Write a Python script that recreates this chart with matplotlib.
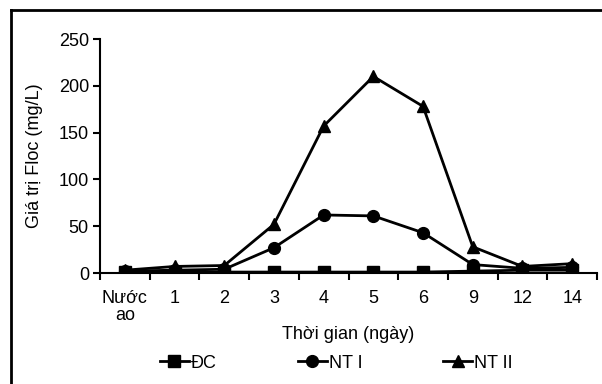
import matplotlib
matplotlib.use("Agg")
import matplotlib.pyplot as plt
from matplotlib.lines import Line2D

plt.rcParams['font.family'] = ['Liberation Sans', 'DejaVu Sans']

categories = ["Nước\nao", "1", "2", "3", "4", "5", "6", "9", "12", "14"]
dc = [1, 1, 1, 1, 1, 1, 1, 2, 3, 3]
nt1 = [2, 3, 4, 27, 62, 61, 43, 9, 5, 6]
nt2 = [3, 7, 8, 52, 157, 210, 178, 28, 7, 10]

fs = 13
fig = plt.figure(figsize=(6.02, 3.84), dpi=100)
ax = fig.add_axes([100/602, 111/384, 497/602, 234/384])

x = list(range(len(categories)))
ms = 8.5
ax.plot(x, dc, color='black', lw=2, marker='s', ms=ms, label='ĐC')
ax.plot(x, nt1, color='black', lw=2, marker='o', ms=ms, label='NT I')
ax.plot(x, nt2, color='black', lw=2, marker='^', ms=ms, label='NT II')

ax.set_xlim(-0.5, len(categories) - 0.5)
ax.set_ylim(0, 250)
ax.set_yticks([0, 50, 100, 150, 200, 250])
ax.set_xticks(x)
ax.set_xticklabels(categories, fontsize=fs, linespacing=1.0)
ax.set_xticks([i - 0.5 for i in range(len(categories) + 1)], minor=True)
ax.tick_params(axis='x', which='major', length=0, pad=12)
ax.tick_params(axis='x', which='minor', length=5, width=1.5, direction='out')
ax.tick_params(axis='y', length=5, width=1.5, direction='out', labelsize=fs, pad=3)
for s in ['top', 'right']:
    ax.spines[s].set_visible(False)
ax.spines['left'].set_linewidth(1.5)
ax.spines['bottom'].set_linewidth(1.5)

ax.set_ylabel('Giá trị Floc (mg/L)', fontsize=fs, labelpad=11)
ax.set_xlabel('Thời gian (ngày)', fontsize=fs, labelpad=2)

leg = fig.legend(handles=ax.get_lines(), loc='center left',
                 bbox_to_anchor=(160/602, 1 - 363/384), ncol=3,
                 frameon=False, fontsize=fs, handlelength=1.6, handletextpad=0.1,
                 columnspacing=4.5, borderpad=0, borderaxespad=0)

# outer frame (top and left visible)
fig.add_artist(Line2D([11/602, 11/602], [0, 1 - 10/384], color='black', lw=2, transform=fig.transFigure))
fig.add_artist(Line2D([11/602, 1], [1 - 10/384, 1 - 10/384], color='black', lw=2, transform=fig.transFigure))

fig.savefig('out.png', dpi=100)
